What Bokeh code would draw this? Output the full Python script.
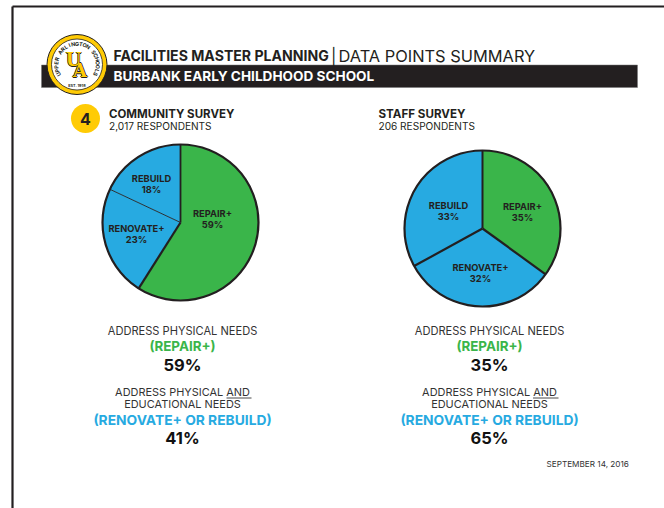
import math
from bokeh.plotting import figure
from bokeh.models import Range1d
from bokeh.core.properties import value
from bokeh.embed import file_html
from bokeh.resources import INLINE

# data
categories = ["REPAIR+", "RENOVATE+", "REBUILD"]
community_values = [59, 23, 18]
staff_values = [35, 32, 33]
community_title = "COMMUNITY SURVEY"
community_sub = "2,017 RESPONDENTS"
staff_title = "STAFF SURVEY"
staff_sub = "206 RESPONDENTS"
community_repair = "59%"
community_other = "41%"
staff_repair = "35%"
staff_other = "65%"

GREEN, BLUE, YEL, INK = "#3AB54A", "#27AAE1", "#FFCB05", "#231F20"
FONT = "Inter"

p = figure(width=664, height=508, output_backend="svg", toolbar_location=None,
           x_range=Range1d(0, 664), y_range=Range1d(508, 0), min_border=0,
           outline_line_color=None, background_fill_color="white")
p.axis.visible = False
p.grid.visible = False

def T(x, y, s, size, color=INK, bold=False, align="center", angle=0.0, font=FONT):
    p.text([x], [y - 0.2], text=[s], text_font=value(font), text_font_size=f"{size}px",
           text_color=color, text_align=align, text_baseline="middle",
           text_font_style="bold" if bold else "normal", angle=[angle])

# page frame
p.segment([12, 12], [6, 6], [12, 664], [508, 6], line_color=INK, line_width=2.2)

# header bar
p.quad(left=[41], right=[637], top=[64.5], bottom=[87], fill_color=INK, line_color="#777777", line_width=0.5)
T(113, 55.5, "FACILITIES MASTER PLANNING", 14.1, INK, True, "left")
T(330.5, 55.5, "|", 16, INK, False, "left")
T(338, 55.5, "DATA POINTS SUMMARY", 16.4, INK, False, "left")
T(113, 75.7, "BURBANK EARLY CHILDHOOD SCHOOL", 13.6, "white", True, "left")

# logo
cx, cy = 76.5, 64
p.circle([cx], [cy], radius=30, fill_color=YEL, line_color=INK, line_width=1)
p.circle([cx], [cy], radius=25.5, fill_color="white", line_color=INK, line_width=0.8)
arc_txt = "UPPER ARLINGTON SCHOOLS"
n = len(arc_txt)
for i, ch in enumerate(arc_txt):
    deg = -118 + 236 * i / (n - 1)
    a = math.radians(deg)
    T(cx + 20.8 * math.sin(a), cy - 20.8 * math.cos(a) + 0.2, ch, 5.4, INK, True, angle=-a)
T(cx, cy + 21, "EST. 1918", 3.8, INK, True)
SERIF = "DejaVu Serif"
for dx, dy in [(-0.7, 0), (0.7, 0), (0, -0.7), (0, 0.7)]:
    T(cx - 3.5 + dx, cy - 4.5 + dy, "U", 18, INK, True, font=SERIF)
    T(cx + 3 + dx, cy + 6 + dy, "A", 18, INK, True, font=SERIF)
T(cx - 3.5, cy - 4.5, "U", 18, YEL, True, font=SERIF)
T(cx + 3, cy + 6, "A", 18, YEL, True, font=SERIF)

# number badge
p.circle([85], [118], radius=14.5, fill_color=YEL, line_color=None)
T(85, 118.5, "4", 16, INK, True)

# survey titles
T(108.5, 113.5, community_title, 11.5, INK, True, "left")
T(108.5, 125.5, community_sub, 10.1, INK, False, "left")
T(378, 113.5, staff_title, 11.6, INK, True, "left")
T(378, 125.5, staff_sub, 10.1, INK, False, "left")

# pies
def pie(cx, cy, r, vals, seps, label_pos):
    total = sum(vals)
    a0 = math.pi / 2
    colors = [GREEN, BLUE, BLUE]
    ang = a0
    edges = [a0]
    for v, c in zip(vals, colors):
        nxt = ang - 2 * math.pi * v / total
        p.wedge([cx], [cy], radius=r, start_angle=nxt, end_angle=ang,
                fill_color=c, line_color=None)
        ang = nxt
        edges.append(ang)
    for e, w in zip(edges[:3], seps):
        p.ray([cx], [cy], length=r, angle=[e], line_color=INK, line_width=w)
    p.circle([cx], [cy], radius=r, fill_color=None, line_color=INK, line_width=2.2)
    for cat, v, (lx, ly) in zip(categories, vals, label_pos):
        T(lx, ly, cat, 9.3, INK, True)
        T(lx, ly + 11, f"{v}%", 9.3, INK, True)

pie(180, 222, 78, community_values, [1.8, 2.2, 0.9], [(212, 213.5), (136, 228), (151, 178)])
pie(482, 228, 78, staff_values, [2.0, 2.2, 2.2], [(522, 206), (480, 267), (448, 205)])

# summaries
def summary(xc, repair, other):
    T(xc, 330.5, "ADDRESS PHYSICAL NEEDS", 11.1, "#333333")
    T(xc, 345.5, "(REPAIR+)", 13.4, GREEN, True)
    T(xc, 364.5, repair, 16.5, "#111111", True)
    T(xc, 391.5, "ADDRESS PHYSICAL AND", 10.95, "#333333")
    T(xc, 404, "EDUCATIONAL NEEDS", 10.95, "#333333")
    T(xc, 419.5, "(RENOVATE+ OR REBUILD)", 13.8, BLUE, True)
    T(xc, 438, other, 16.5, "#111111", True)

summary(182, community_repair, community_other)
summary(489, staff_repair, staff_other)
p.segment([226, 532.5], [397.5, 397.5], [251, 558], [397.5, 397.5], line_color="#333333", line_width=0.9)

T(546, 464, "SEPTEMBER 14, 2016", 8.2, "#333333", False, "left")

open("out.html", "w").write(file_html(p, INLINE))
